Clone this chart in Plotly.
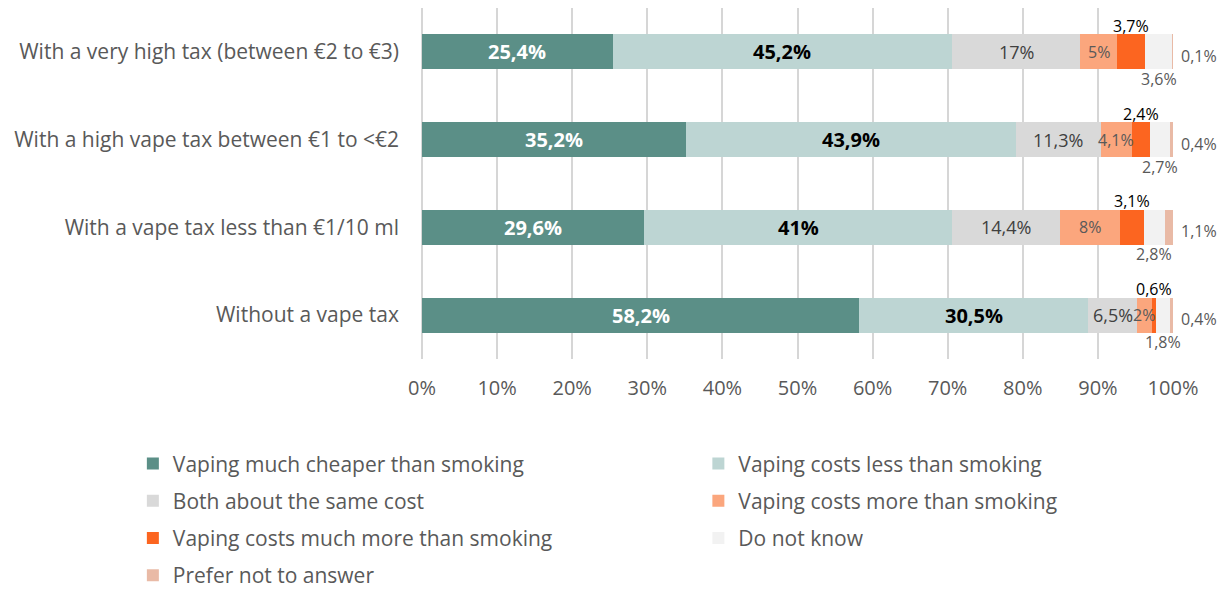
import plotly.graph_objects as go

# Survey rows (top to bottom) and response shares in percent
categories = [
    "With a very high tax (between €2 to €3)",
    "With a high vape tax between €1 to <€2",
    "With a vape tax less than €1/10 ml",
    "Without a vape tax",
]

series_names = [
    "Vaping much cheaper than smoking",
    "Vaping costs less than smoking",
    "Both about the same cost",
    "Vaping costs more than smoking",
    "Vaping costs much more than smoking",
    "Do not know",
    "Prefer not to answer",
]

much_cheaper = [25.4, 35.2, 29.6, 58.2]
costs_less = [45.2, 43.9, 41.0, 30.5]
same_cost = [17.0, 11.3, 14.4, 6.5]
costs_more = [5.0, 4.1, 8.0, 2.0]
much_more = [3.7, 2.4, 3.1, 0.6]
do_not_know = [3.6, 2.7, 2.8, 1.8]
prefer_not = [0.1, 0.4, 1.1, 0.4]

x_ticks = [0, 10, 20, 30, 40, 50, 60, 70, 80, 90, 100]
x_tick_labels = ["0%", "10%", "20%", "30%", "40%", "50%",
                 "60%", "70%", "80%", "90%", "100%"]

series_values = [much_cheaper, costs_less, same_cost, costs_more,
                 much_more, do_not_know, prefer_not]
colors = ["#5B8F87", "#BDD5D3", "#D9D9D9", "#FBA67D",
          "#FC6520", "#F2F2F2", "#E9BAA6"]
GRAY = "#595959"
FONT = "Open Sans"
GRID = "rgba(200,200,200,0.75)"

fig = go.Figure()
for k, (name, vals, col) in enumerate(zip(series_names, series_values, colors)):
    fig.add_trace(go.Bar(
        y=categories, x=vals, name=name, orientation="h",
        marker=dict(color=col, line=dict(width=0)),
        legend="legend" if k % 2 == 0 else "legend2",
        legendgroup=name,
        hoverinfo="x+name",
    ))


def fmt(v):
    s = f"{v:.1f}".rstrip("0").rstrip(".")
    return s.replace(".", ",") + "%"


# Value labels placed from cumulative segment positions
for i, cat in enumerate(categories):
    start = 0.0
    for k, vals in enumerate(series_values):
        v = vals[i]
        mid = start + v / 2
        if k == 0:
            a = dict(x=mid, font=dict(size=20, color="white", family=FONT, weight="bold"))
        elif k == 1:
            a = dict(x=mid, font=dict(size=20, color="black", family=FONT, weight="bold"))
        elif k == 2:
            a = dict(x=mid, font=dict(size=18, color="#404040", family=FONT))
        elif k == 3:
            a = dict(x=mid, font=dict(size=16, color=GRAY, family=FONT))
        elif k == 4:
            a = dict(x=mid, yanchor="bottom", yshift=13,
                     font=dict(size=16, color="black", family=FONT))
        elif k == 5:
            a = dict(x=mid, yanchor="top", yshift=-14,
                     font=dict(size=16, color=GRAY, family=FONT))
        else:
            a = dict(x=100, xanchor="left", xshift=6, yshift=-4,
                     font=dict(size=16, color=GRAY, family=FONT))
        fig.add_annotation(y=cat, text=fmt(v), showarrow=False, **a)
        start += v

legend_common = dict(
    orientation="v", font=dict(size=21, color=GRAY, family=FONT),
    bgcolor="rgba(0,0,0,0)", tracegroupgap=7, itemwidth=30,
    xanchor="left", yanchor="top", traceorder="grouped",
)

fig.update_layout(
    width=1225, height=589,
    margin=dict(l=422, r=52, t=8, b=230, autoexpand=False),
    barmode="stack", bargap=0.6,
    plot_bgcolor="white", paper_bgcolor="white",
    font=dict(family=FONT, color=GRAY, size=20),
    xaxis=dict(
        range=[0, 100], tickvals=x_ticks, ticktext=x_tick_labels,
        showgrid=True, gridcolor=GRID, gridwidth=2,
        zeroline=True, zerolinecolor=GRID, zerolinewidth=2,
        showline=False, ticks="",
        layer="above traces", ticklabelstandoff=15,
        tickfont=dict(size=20, color=GRAY),
        automargin=False,
    ),
    yaxis=dict(
        categoryorder="array", categoryarray=categories,
        autorange="reversed", showgrid=False, zeroline=False,
        ticks="", ticklabelstandoff=22,
        tickfont=dict(size=21, color=GRAY),
        automargin=False,
    ),
    legend=dict(x=-0.385, y=-0.24, **legend_common),
    legend2=dict(x=0.368, y=-0.24, **legend_common),
)

fig.write_html("out.html")
